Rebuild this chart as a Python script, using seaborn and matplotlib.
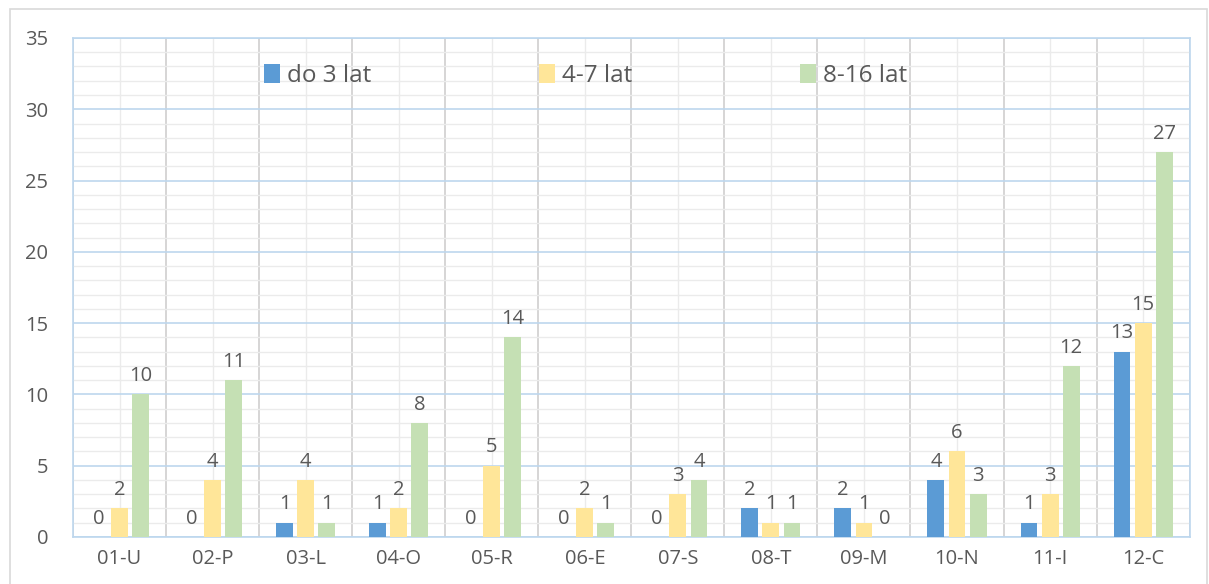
import pandas as pd
import matplotlib.pyplot as plt
import seaborn as sns
import numpy as np
from matplotlib.patches import Rectangle

# dane
categories = ['01-U', '02-P', '03-L', '04-O', '05-R', '06-E', '07-S', '08-T', '09-M', '10-N', '11-I', '12-C']
series = ['do 3 lat', '4-7 lat', '8-16 lat']
do3 = [0, 0, 1, 1, 0, 0, 0, 2, 2, 4, 1, 13]
lat4_7 = [2, 4, 4, 2, 5, 2, 3, 1, 1, 6, 3, 15]
lat8_16 = [10, 11, 1, 8, 14, 1, 4, 1, 0, 3, 12, 27]

colors = ['#5B9BD5', '#FFE699', '#C5E0B4']
txt = '#595959'

df = pd.DataFrame({
    'kat': categories * 3,
    'seria': [series[0]] * 12 + [series[1]] * 12 + [series[2]] * 12,
    'wartosc': do3 + lat4_7 + lat8_16,
})

sns.set_style('white')
plt.rcParams['font.family'] = ['Open Sans', 'DejaVu Sans']

fig = plt.figure(figsize=(12.09, 5.84), dpi=100)
ax = fig.add_axes([0.0604, 0.0805, 0.9236, 0.8545])

# ramka wykresu
fig.patches.append(Rectangle((0.008, -0.05), 0.99, 1.035, transform=fig.transFigure,
                             fill=False, edgecolor='#D9D9D9', lw=1.2, zorder=-5))

sns.barplot(data=df, x='kat', y='wartosc', hue='seria', palette=colors,
            width=0.68, gap=0.2, ax=ax, zorder=3, saturation=1, linewidth=0)

for c in ax.containers:
    ax.bar_label(c, padding=6, fontsize=14.5, color=txt)

ax.set_xlim(-0.5, 11.5)
ax.set_ylim(0, 35)
ax.set_yticks(np.arange(0, 36, 5))
ax.set_yticks(np.arange(0, 36, 1), minor=True)
ax.set_xticks(np.arange(-0.5, 12, 1), minor=True)

ax.grid(which='major', axis='y', color='#BDD7EE', lw=1.2, zorder=0)
ax.grid(which='minor', axis='y', color='#EBEBEB', lw=1.0, zorder=0)
ax.grid(which='major', axis='x', color='#EBEBEB', lw=1.0, zorder=0)
ax.grid(which='minor', axis='x', color='#D0CECE', lw=1.2, zorder=0)
ax.set_axisbelow(True)

for s in ax.spines.values():
    s.set_color('#BDD7EE')
    s.set_linewidth(1.2)

ax.tick_params(which='both', length=0)
ax.tick_params(axis='both', labelsize=14.5, labelcolor=txt)
ax.tick_params(axis='x', pad=9)
ax.tick_params(axis='y', pad=18)
ax.set_xlabel('')
ax.set_ylabel('')

leg = ax.legend(loc='center', bbox_to_anchor=(0.459, 0.924), ncol=3, frameon=False,
                fontsize=17.5, handlelength=0.65, handleheight=0.85, handletextpad=0.3,
                columnspacing=6.9, labelcolor=txt)

fig.savefig('out.png', dpi=100)
